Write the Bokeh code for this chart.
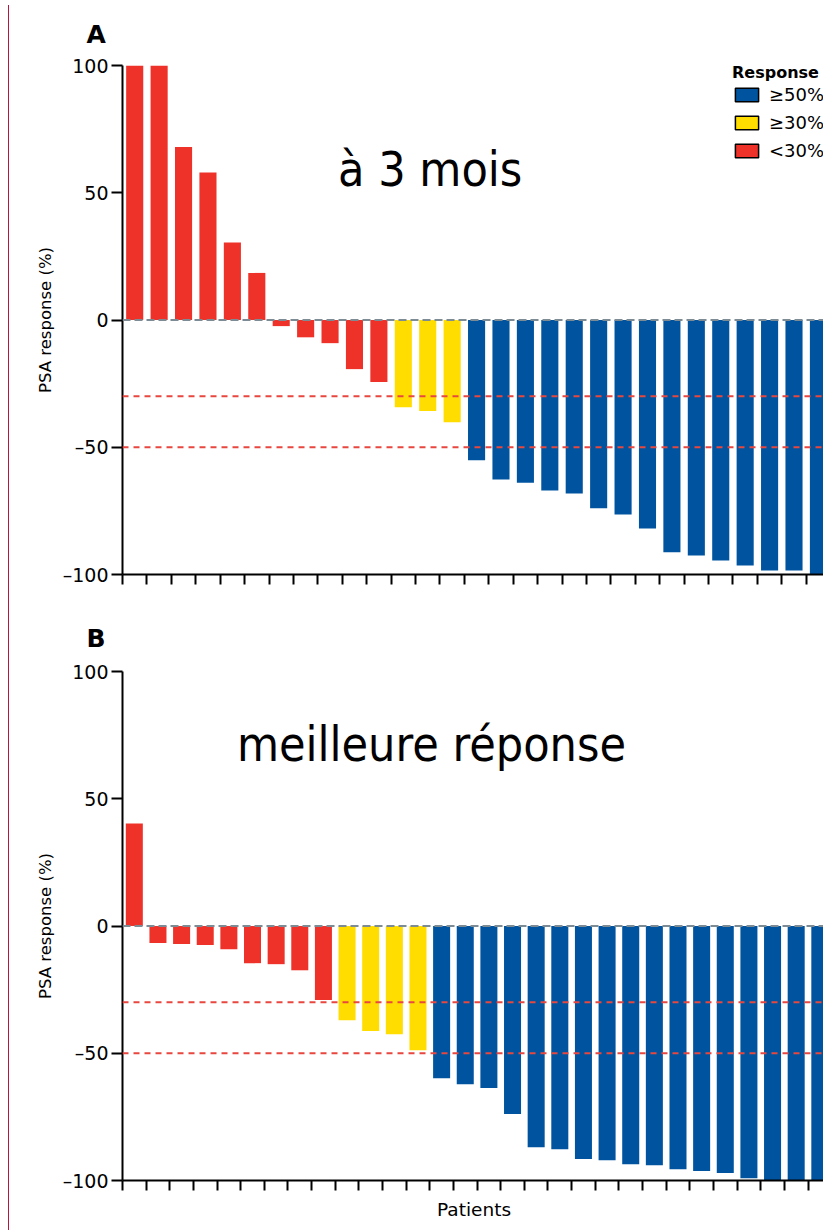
from bokeh.plotting import figure
from bokeh.models import (Range1d, FixedTicker, Span, Label, Legend, LegendItem,
                          ColumnDataSource, Div, CustomJSTickFormatter, Title)
from bokeh.layouts import row, column
from bokeh.embed import file_html
from bokeh.resources import INLINE

# ---- data (PSA response, % change from baseline, sorted per patient) ----
resp_3_months = [100, 100, 68, 58, 30.5, 18.5, -2.4, -6.8, -9.1, -19.3, -24.4,
                 -34.3, -35.8, -40.2,
                 -55.1, -62.7, -63.9, -67.0, -68.2, -74.0, -76.4, -81.9, -91.3,
                 -92.5, -94.5, -96.5, -98.4, -98.4, -100]
resp_best = [40.3, -6.7, -7.1, -7.5, -9.1, -14.6, -15.0, -17.4, -29.1,
             -37.0, -41.3, -42.5, -48.8,
             -59.8, -62.2, -63.7, -73.9, -86.9, -87.7, -91.6, -92.0, -93.6,
             -94.0, -95.6, -96.3, -97.1, -99.1, -100, -100, -100]
threshold_lines = [-30, -50]
y_ticks = [-100, -50, 0, 50, 100]
y_tick_labels = {-100: "\u2013100", -50: "\u201350", 0: "0", 50: "50", 100: "100"}
category_labels = ["\u226550%", "\u226530%", "<30%"]
category_colors = ["#00549f", "#ffdd00", "#ee3229"]
panel_letters = ["A", "B"]
panel_titles = ["\u00e0 3 mois", "meilleure r\u00e9ponse"]
y_label = "PSA response (%)"
x_label = "Patients"
legend_title = "Response"

AX_FONT = "DejaVu Sans"
TITLE_FONT = "DejaVu Sans Condensed"
NAN = float("nan")


def category_of(v):
    if v <= -50:
        return 0
    if v <= -30:
        return 1
    return 2


def make_panel(values, letter, title, visible_patients, bar_width, height,
               border_top, border_bottom, letter_standoff, title_pos,
               show_xlabel, with_legend):
    n = len(values)
    p = figure(width=811, height=height, output_backend="svg", toolbar_location=None,
               x_range=Range1d(0, visible_patients), y_range=Range1d(-100, 100),
               min_border_left=108, min_border_right=0,
               min_border_top=border_top, min_border_bottom=border_bottom)
    p.outline_line_color = None
    p.xgrid.visible = False
    p.ygrid.visible = False
    p.background_fill_color = "white"

    src = ColumnDataSource(dict(
        x=[i + 0.5 for i in range(n)],
        top=values,
        color=[category_colors[category_of(v)] for v in values],
    ))
    p.vbar(x="x", top="top", bottom=0, width=bar_width, source=src,
           fill_color="color", line_color=None)

    # reference lines
    p.add_layout(Span(location=0, dimension="width", line_color="#7d8b94",
                      line_width=2, line_dash="8 4"))
    for t in threshold_lines:
        p.add_layout(Span(location=t, dimension="width", line_color="#e8473f",
                          line_width=2, line_dash="6 5"))

    # axes
    ya = p.yaxis[0]
    ya.ticker = FixedTicker(ticks=y_ticks)
    ya.major_label_overrides = y_tick_labels
    ya.axis_line_width = 2
    ya.axis_line_color = "black"
    ya.major_tick_line_width = 2
    ya.major_tick_line_color = "black"
    ya.major_tick_out = 11
    ya.major_tick_in = 0
    ya.minor_tick_out = 0
    ya.minor_tick_in = 0
    ya.major_label_standoff = 3
    ya.major_label_text_font = AX_FONT
    ya.major_label_text_font_size = "19px"
    ya.major_label_text_color = "black"
    ya.axis_label = y_label
    ya.axis_label_text_font = AX_FONT
    ya.axis_label_text_font_style = "normal"
    ya.axis_label_text_font_size = "16.5px"
    ya.axis_label_text_color = "black"
    ya.axis_label_standoff = 5

    xa = p.xaxis[0]
    xa.ticker = FixedTicker(ticks=list(range(n)))
    xa.formatter = CustomJSTickFormatter(code="return ''")
    xa.axis_line_width = 2
    xa.axis_line_color = "black"
    xa.major_tick_line_width = 2
    xa.major_tick_line_color = "black"
    xa.major_tick_out = 10
    xa.major_tick_in = 0
    xa.minor_tick_out = 0
    xa.minor_tick_in = 0
    xa.major_label_standoff = 0
    if show_xlabel:
        xa.axis_label = x_label
        xa.axis_label_text_font = AX_FONT
        xa.axis_label_text_font_style = "normal"
        xa.axis_label_text_font_size = "18.5px"
        xa.axis_label_text_color = "black"
        xa.axis_label_standoff = 8

    # panel letter (above the frame) and big title inside the frame
    p.add_layout(Title(text=letter, align="left", offset=-36,
                       standoff=letter_standoff,
                       text_font=AX_FONT, text_font_style="bold",
                       text_font_size="25px", text_color="black"), "above")
    p.add_layout(Label(x=title_pos[0], y=title_pos[1], text=title,
                       text_font=TITLE_FONT, text_font_size="48px",
                       text_color="black", text_align="center",
                       text_baseline="alphabetic"))

    if with_legend:
        items = []
        for lab, col in zip(category_labels, category_colors):
            r = p.quad(left=[NAN], right=[NAN], top=[NAN], bottom=[NAN],
                       fill_color=col, line_color="black", line_width=1.5)
            items.append(LegendItem(label=lab, renderers=[r], index=0))
        leg = Legend(items=items, title=legend_title, location=(610, 413),
                     padding=0, margin=0, spacing=7,
                     glyph_width=29, glyph_height=17, label_height=17,
                     label_standoff=8, title_standoff=2,
                     border_line_color=None, background_fill_alpha=0,
                     label_text_font=AX_FONT, label_text_font_size="18px",
                     label_text_color="black",
                     title_text_font=AX_FONT, title_text_font_style="bold",
                     title_text_font_size="16px", title_text_color="black")
        p.add_layout(leg, "center")
    return p


pA = make_panel(resp_3_months, panel_letters[0], panel_titles[0],
                visible_patients=28.79, bar_width=0.7, height=600,
                border_top=65, border_bottom=26, letter_standoff=33,
                title_pos=(12.6, 59.4), show_xlabel=False, with_legend=True)
pB = make_panel(resp_best, panel_letters[1], panel_titles[1],
                visible_patients=29.74, bar_width=0.72, height=630,
                border_top=71, border_bottom=50, letter_standoff=38,
                title_pos=(13.07, 71.4), show_xlabel=True, with_legend=False)

side_rule = Div(text="", width=4, height=1230,
                styles={"border-right": "1.5px solid #b4163f",
                        "box-sizing": "border-box", "height": "1230px"})

layout = row(side_rule, column(pA, pB, spacing=0), spacing=0)

open("out.html", "w").write(file_html(layout, INLINE))
